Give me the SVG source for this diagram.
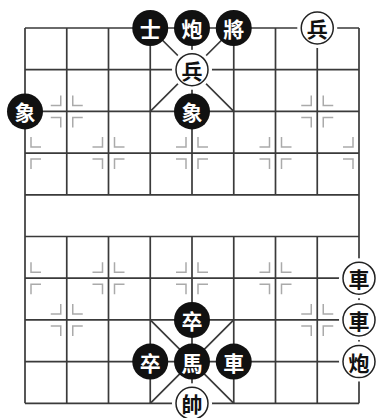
<svg xmlns="http://www.w3.org/2000/svg" xmlns:xlink="http://www.w3.org/1999/xlink" width="378" height="418" viewBox="0 0 378 418">
<style>
.grid{stroke:#3a3a3a;stroke-width:1.7;fill:none}
.mark{stroke:#aaa;stroke-width:1.5;fill:none}
.bk circle{fill:#111}
.bk text{fill:#fff}
.rd .bg{fill:#fff}
.rd .ring{fill:#fff;stroke:#222;stroke-width:1.5}
.rd text{fill:#111}
text{font-family:"Noto Sans CJK TC","Noto Sans CJK SC",sans-serif;font-size:21px;font-weight:bold;text-anchor:middle;dominant-baseline:central}
</style>
<defs>
<path id="mR" class="mark" d="M6,-16V-6H16M6,16V6H16"/>
<path id="mL" class="mark" d="M-6,-16V-6H-16M-6,16V6H-16"/>
</defs>
<rect width="378" height="418" fill="#fff"/>
<g id="connectors">
<g class="grid">
<path d="M25,28H359M25,69.7H359M25,111.4H359M25,153.1H359M25,194.8H359M25,236.5H359M25,278.2H359M25,319.9H359M25,361.6H359M25,403.3H359"/>
<path d="M25,28V403.3M359,28V403.3"/>
<path d="M66.75,28V194.8M108.5,28V194.8M150.25,28V194.8M192,28V194.8M233.75,28V194.8M275.5,28V194.8M317.25,28V194.8"/>
<path d="M66.75,236.5V403.3M108.5,236.5V403.3M150.25,236.5V403.3M192,236.5V403.3M233.75,236.5V403.3M275.5,236.5V403.3M317.25,236.5V403.3"/>
<path d="M150.25,28L233.75,111.4M233.75,28L150.25,111.4M150.25,319.9L233.75,403.3M233.75,319.9L150.25,403.3"/>
</g>
<g id="marks">
<use xlink:href="#mL" x="66.75" y="111.4"/><use xlink:href="#mR" x="66.75" y="111.4"/>
<use xlink:href="#mL" x="317.25" y="111.4"/><use xlink:href="#mR" x="317.25" y="111.4"/>
<use xlink:href="#mL" x="66.75" y="319.9"/><use xlink:href="#mR" x="66.75" y="319.9"/>
<use xlink:href="#mL" x="317.25" y="319.9"/><use xlink:href="#mR" x="317.25" y="319.9"/>
<use xlink:href="#mR" x="25" y="153.1"/>
<use xlink:href="#mL" x="108.5" y="153.1"/><use xlink:href="#mR" x="108.5" y="153.1"/>
<use xlink:href="#mL" x="192" y="153.1"/><use xlink:href="#mR" x="192" y="153.1"/>
<use xlink:href="#mL" x="275.5" y="153.1"/><use xlink:href="#mR" x="275.5" y="153.1"/>
<use xlink:href="#mL" x="359" y="153.1"/>
<use xlink:href="#mR" x="25" y="278.2"/>
<use xlink:href="#mL" x="108.5" y="278.2"/><use xlink:href="#mR" x="108.5" y="278.2"/>
<use xlink:href="#mL" x="192" y="278.2"/><use xlink:href="#mR" x="192" y="278.2"/>
<use xlink:href="#mL" x="275.5" y="278.2"/><use xlink:href="#mR" x="275.5" y="278.2"/>
<use xlink:href="#mL" x="359" y="278.2"/>
</g>
</g>
<g id="b-shi" class="bk" transform="translate(150.25,28)"><circle r="18"/><text>士</text></g>
<g id="b-pao" class="bk" transform="translate(192,28)"><circle r="18"/><text>炮</text></g>
<g id="b-jiang" class="bk" transform="translate(233.75,28)"><circle r="18"/><text>將</text></g>
<g id="r-bing1" class="rd" transform="translate(317.25,28)"><circle class="bg" r="20"/><circle class="ring" r="16"/><text>兵</text></g>
<g id="r-bing2" class="rd" transform="translate(192,69.7)"><circle class="bg" r="20"/><circle class="ring" r="16"/><text>兵</text></g>
<g id="b-xiang1" class="bk" transform="translate(25,111.4)"><circle r="18"/><text>象</text></g>
<g id="b-xiang2" class="bk" transform="translate(192,111.4)"><circle r="18"/><text>象</text></g>
<g id="r-che1" class="rd" transform="translate(359,278.2)"><circle class="bg" r="20"/><circle class="ring" r="16"/><text>車</text></g>
<g id="b-zu1" class="bk" transform="translate(192,319.9)"><circle r="18"/><text>卒</text></g>
<g id="r-che2" class="rd" transform="translate(359,319.9)"><circle class="bg" r="20"/><circle class="ring" r="16"/><text>車</text></g>
<g id="b-zu2" class="bk" transform="translate(150.25,361.6)"><circle r="18"/><text>卒</text></g>
<g id="b-ma" class="bk" transform="translate(192,361.6)"><circle r="18"/><text>馬</text></g>
<g id="b-che" class="bk" transform="translate(233.75,361.6)"><circle r="18"/><text>車</text></g>
<g id="r-pao" class="rd" transform="translate(359,361.6)"><circle class="bg" r="20"/><circle class="ring" r="16"/><text>炮</text></g>
<g id="r-shuai" class="rd" transform="translate(192,403.3)"><circle class="bg" r="20"/><circle class="ring" r="16"/><text>帥</text></g>
</svg>
